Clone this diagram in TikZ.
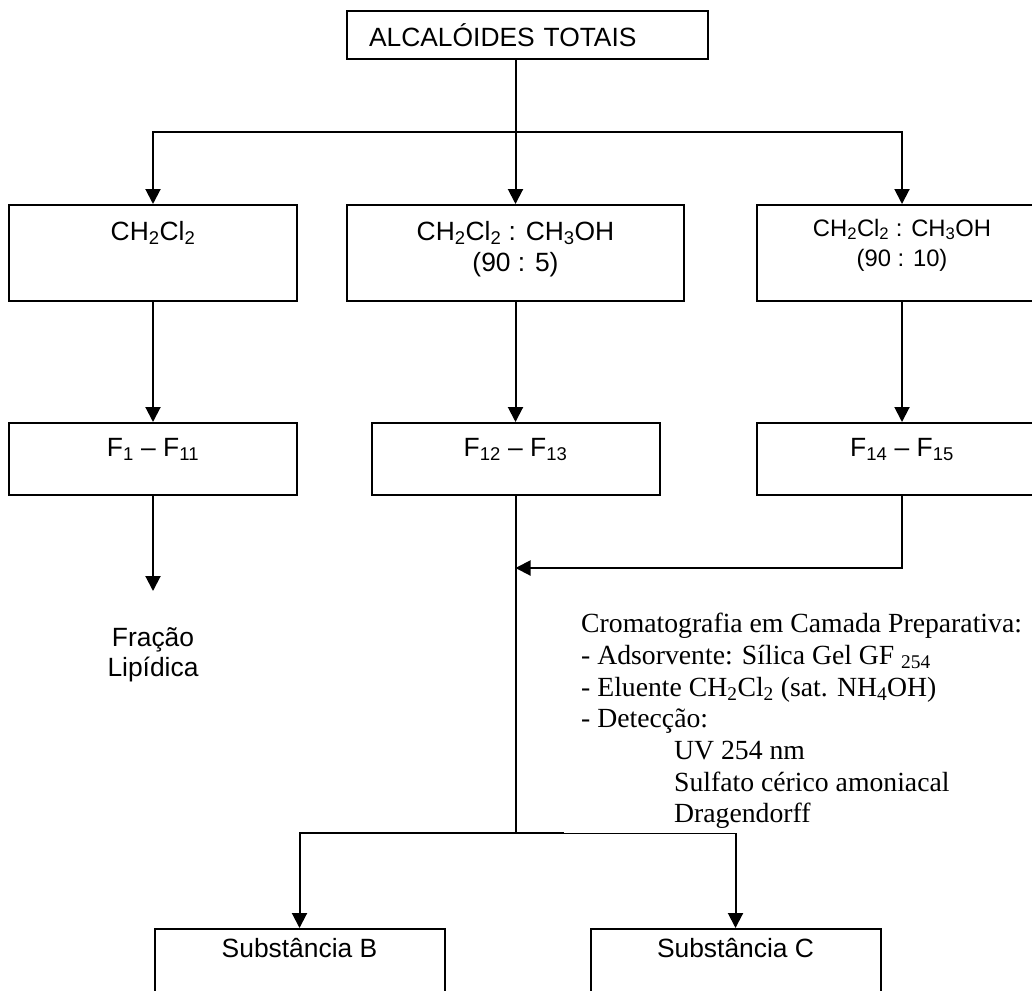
\documentclass[tikz,border=0pt]{standalone}
\usepackage{fontspec}
\setmainfont{Liberation Sans}
\newfontfamily\notefont{Liberation Serif}
\usepackage{tikz}
\usetikzlibrary{arrows.meta,positioning}
\tikzset{
  mybox/.style={
    draw=black, line width=2pt, fill=white, align=center,
    inner xsep=4pt, inner ysep=0pt, text height=35pt,
    font=\fontsize{26.4}{31}\selectfont,
  },
  arrow/.style={-{Triangle[length=15pt,width=15pt]}, line width=2pt},
  line/.style={line width=2pt},
  thinline/.style={line width=1pt},
}
\begin{document}
\begin{tikzpicture}[
  x=1pt, y=1pt,
  topbox/.style={mybox, anchor=north west, minimum height=48pt, text height=35pt, text depth=13pt,
    text width=317pt, inner xsep=22pt, align=left},
  solvbox/.style={mybox, minimum height=96pt, text depth=61pt},
  fracbox/.style={mybox, minimum height=72pt, text height=33pt, text depth=39pt},
  subbox/.style={mybox, minimum width=290pt, minimum height=96pt, text height=28pt, text depth=68pt},
  plain/.style={font=\fontsize{26.4}{30}\selectfont, align=center, inner sep=0pt},
  ccpnote/.style={font=\notefont\fontsize{27.7}{31.7}\selectfont, align=left, inner sep=0pt}
]
  \useasboundingbox (0,0) rectangle (1032,-990);
  \clip (0,0) rectangle (1032,-990);

  \node[topbox] (alc) at (346,-10) {ALCALÓIDES TOTAIS};

  % two-line boxes: the base line is the last line
  \node[solvbox, minimum width=337pt, below=144pt of alc, xshift=-12pt, text height=66pt, text depth=30pt] (s2)
    {CH\textsubscript{2}Cl\textsubscript{2} : CH\textsubscript{3}OH\\(90 : 5)};
  \node[solvbox, minimum width=288pt, left=48pt of s2] (s1)
    {CH\textsubscript{2}Cl\textsubscript{2}};
  \node[solvbox, minimum width=290pt, right=71pt of s2, text height=61pt, text depth=35pt,
    font=\fontsize{23.8}{30}\selectfont] (s3)
    {CH\textsubscript{2}Cl\textsubscript{2} : CH\textsubscript{3}OH\\(90 : 10)};

  \node[fracbox, minimum width=288pt, below=120pt of s1] (f1) {F\textsubscript{1} -- F\textsubscript{11}};
  \node[fracbox, minimum width=288pt, below=120pt of s2] (f2) {F\textsubscript{12} -- F\textsubscript{13}};
  \node[fracbox, minimum width=290pt, below=120pt of s3] (f3) {F\textsubscript{14} -- F\textsubscript{15}};

  \node[plain, below=131pt of f1] (lip) {Fração\\Lipídica};

  \node[ccpnote, anchor=north west] (ccp) at (581,-613) {Cromatografia em Camada Preparativa:\\
    - Adsorvente: Sílica Gel GF \textsubscript{254}\\
    - Eluente CH\textsubscript{2}Cl\textsubscript{2} (sat. NH\textsubscript{4}OH)\\
    - Detecção:\\
    \hspace*{93pt}UV 254 nm\\
    \hspace*{93pt}Sulfato cérico amoniacal\\
    \hspace*{93pt}Dragendorff};

  \coordinate[above=72pt of s2.north] (fork);
  \coordinate[below=72pt of f2.south] (join);
  \coordinate[below=337pt of f2.south] (split);
  \coordinate[right=48pt of split] (kink);

  \node[subbox, below=95pt of split, xshift=-216pt] (subB) {Substância B};
  \node[subbox, right=144pt of subB] (subC) {Substância C};

  \draw[line] (alc.south -| fork) -- (fork);
  \draw[arrow] (fork) -| (s1.north);
  \draw[arrow] (fork) -- (s2.north);
  \draw[arrow] (fork) -| (s3.north);

  \draw[arrow] (s1) -- (f1);
  \draw[arrow] (s2) -- (f2);
  \draw[arrow] (s3) -- (f3);

  \draw[arrow, shorten >=36pt] (f1) -- (lip);
  \draw[arrow] (f3.south) |- (join);
  \draw[line] (f2.south) -- (split);

  \draw[arrow] (split) -| (subB.north);
  \draw[line] (split) -- (kink);
  \draw[thinline] (kink) -- (kink -| subC.north);
  \draw[arrow] (kink -| subC.north) -- (subC.north);

\end{tikzpicture}
\end{document}
